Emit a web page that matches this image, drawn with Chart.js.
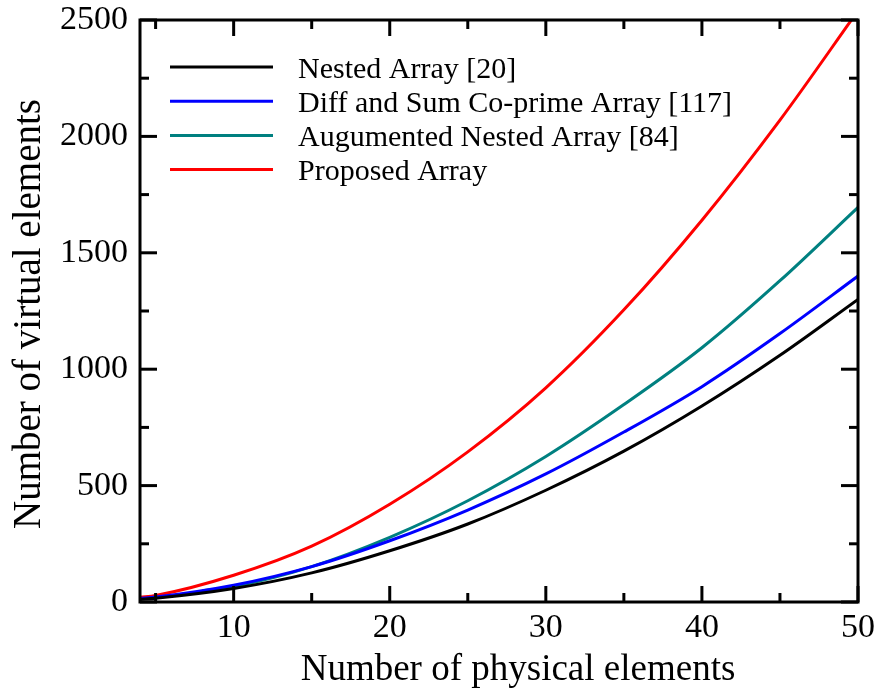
<!DOCTYPE html>
<html>
<head>
<meta charset="utf-8">
<script src="https://cdn.jsdelivr.net/npm/chart.js@4.4.1/dist/chart.umd.min.js"></script>
<style>
  html, body { margin: 0; padding: 0; background: #fff; }
  #wrap { width: 882px; height: 698px; }
</style>
</head>
<body>
<div id="wrap"><canvas id="chart" width="882" height="698"></canvas></div>
<script>
// Virtual vs physical elements

const nestedN     = [4, 5, 10, 15, 20, 25, 30, 35, 40, 45, 50]
const nestedVals  = [11, 16, 58, 125, 220, 335, 480, 648, 842, 1060, 1300]

const diffSumN    = [4, 5, 10, 15, 20, 25, 30, 35, 40, 45, 50]
const diffSumVals = [15, 21, 72, 152, 263, 395, 550, 730, 925, 1153, 1400]

const augN        = [8, 10, 15, 20, 25, 30, 35, 40, 45, 50]
const augVals     = [48, 66, 152, 278, 435, 625, 848, 1092, 1380, 1695]

const propN       = [4, 5, 10, 15, 20, 25, 30, 35, 40, 45, 50]
const propVals    = [20, 28, 115, 240, 420, 645, 920, 1255, 1640, 2070, 2540]

const seriesLabels = ['Nested Array [20]', 'Diff and Sum Co-prime Array [117]', 'Augumented Nested Array [84]', 'Proposed Array']
const seriesColors = ['#000000', '#0000ff', '#008080', '#ff0000']

const xMajor = [10, 20, 30, 40, 50]
const xMinor = [5, 15, 25, 35, 45]
const yMajor = [0, 500, 1000, 1500, 2000, 2500]
const yMinor = [250, 750, 1250, 1750, 2250]

const xTitle = 'Number of physical elements'
const yTitle = 'Number of virtual elements'

const FONT = '"Liberation Serif", "Times New Roman", serif'

const toPoints = (xs, ys) => xs.map((x, i) => ({ x: x, y: ys[i] }))

const seriesData = [
  toPoints(nestedN, nestedVals),
  toPoints(diffSumN, diffSumVals),
  toPoints(augN, augVals),
  toPoints(propN, propVals)
]

// frame, inward ticks, legend and axis titles
const decorations = {
  id: 'decorations',
  afterDatasetsDraw(chart)
  {
    const ctx  = chart.ctx
    const area = chart.chartArea
    const xs   = chart.scales.x
    const ys   = chart.scales.y

    ctx.save()
    ctx.strokeStyle = '#000'
    ctx.lineWidth   = 3
    ctx.lineCap     = 'butt'

    const tick = (x1, y1, x2, y2) => { ctx.beginPath(); ctx.moveTo(x1, y1); ctx.lineTo(x2, y2); ctx.stroke() }

    xMajor.forEach(v => {
      const px = xs.getPixelForValue(v)
      tick(px, area.bottom, px, area.bottom - 16)
      tick(px, area.top, px, area.top + 16)
    })
    xMinor.forEach(v => {
      const px = xs.getPixelForValue(v)
      tick(px, area.bottom, px, area.bottom - 9)
      tick(px, area.top, px, area.top + 9)
    })
    yMajor.forEach(v => {
      const py = ys.getPixelForValue(v)
      tick(area.left, py, area.left + 17, py)
      tick(area.right, py, area.right - 17, py)
    })
    yMinor.forEach(v => {
      const py = ys.getPixelForValue(v)
      tick(area.left, py, area.left + 9, py)
      tick(area.right, py, area.right - 9, py)
    })

    ctx.strokeRect(area.left, area.top, area.right - area.left, area.bottom - area.top)

    // legend
    ctx.font         = '30px ' + FONT
    ctx.fillStyle    = '#000'
    ctx.textAlign    = 'left'
    ctx.textBaseline = 'alphabetic'
    chart.data.datasets.forEach((ds, i) => {
      const y = 67 + i * 34.2
      ctx.strokeStyle = ds.borderColor
      ctx.lineWidth   = 3
      tick(170, y, 273, y)
      ctx.fillText(ds.label, 298, y + 10.5)
    })

    // axis titles
    ctx.font      = '37px ' + FONT
    ctx.textAlign = 'center'
    ctx.fillText(xTitle, 518, 680)

    ctx.save()
    ctx.translate(40, 314)
    ctx.rotate(-Math.PI / 2)
    ctx.font = '39px ' + FONT
    ctx.fillText(yTitle, 0, 0)
    ctx.restore()

    ctx.restore()
  }
}

new Chart(document.getElementById('chart'), {
  type: 'line',
  data: {
    datasets: seriesData.map((pts, i) => ({
      label:                  seriesLabels[i],
      data:                   pts,
      borderColor:            seriesColors[i],
      borderWidth:            3,
      pointRadius:            0,
      fill:                   false,
      cubicInterpolationMode: 'monotone'
    }))
  },
  options: {
    responsive: false,
    animation:  false,
    events:     [],
    layout: { padding: { top: 20, right: 24, left: 0, bottom: 0 } },
    plugins: {
      legend:  { display: false },
      tooltip: { enabled: false }
    },
    scales: {
      x: {
        type: 'linear',
        min:  4,
        max:  50,
        grid:   { display: false, drawTicks: false },
        border: { display: false },
        ticks: {
          padding:  6,
          color:    '#000',
          font:     { family: FONT, size: 34 },
          callback: v => String(v)
        },
        afterBuildTicks: scale => { scale.ticks = xMajor.map(v => ({ value: v })) },
        afterFit:        scale => { scale.height = 96; scale.paddingLeft = 0; scale.paddingRight = 0 }
      },
      y: {
        type: 'linear',
        min:  0,
        max:  2500,
        grid:   { display: false, drawTicks: false },
        border: { display: false },
        ticks: {
          padding:  12,
          color:    '#000',
          font:     { family: FONT, size: 34 },
          callback: v => String(v)
        },
        afterBuildTicks: scale => { scale.ticks = yMajor.map(v => ({ value: v })) },
        afterFit:        scale => { scale.width = 140; scale.paddingTop = 0; scale.paddingBottom = 0 }
      }
    }
  },
  plugins: [decorations]
})
</script>
</body>
</html>
